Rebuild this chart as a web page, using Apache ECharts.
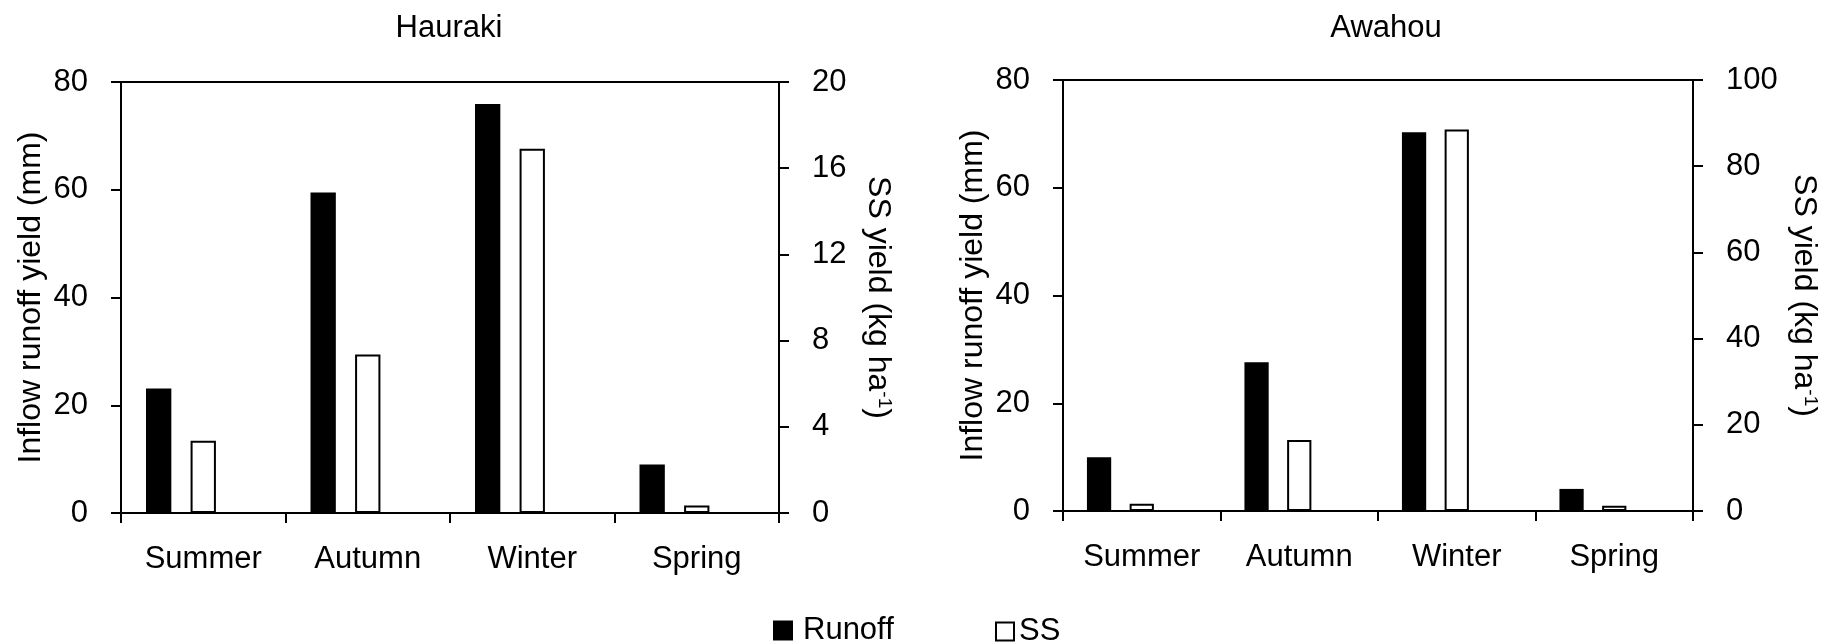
<!DOCTYPE html>
<html>
<head>
<meta charset="utf-8">
<script src="https://cdn.jsdelivr.net/npm/echarts@6/dist/echarts.min.js"></script>
<style>
html,body{margin:0;padding:0;background:#fff;}
#chart{width:1823px;height:644px;}
</style>
</head>
<body>
<div id="chart"></div>
<script>
// ---- data ----
const categories = ['Summer', 'Autumn', 'Winter', 'Spring'];
const haurakiRunoff = [23.1, 59.5, 75.9, 9.0];
const haurakiSS = [3.35, 7.35, 16.9, 0.35];
const awahouRunoff = [10.0, 27.6, 70.3, 4.1];
const awahouSS = [1.7, 16.5, 88.5, 1.2];
const panelTitles = ['Hauraki', 'Awahou'];
const runoffAxis = { min: 0, max: 80, interval: 20 };
const haurakiSSAxis = { min: 0, max: 20, interval: 4 };
const awahouSSAxis = { min: 0, max: 100, interval: 20 };
const leftAxisName = 'Inflow runoff yield (mm)';
const rightAxisName = 'SS yield (kg ha{sup|-1})';

// ---- styling ----
const FONT = "'Liberation Sans', Arial, sans-serif";
const FS = 31;
const black = '#000';

const chart = echarts.init(document.getElementById('chart'), null, { renderer: 'canvas' });

const grids = [
  { left: 121, top: 82, width: 658, height: 431, show: true, borderColor: black, borderWidth: 2, backgroundColor: 'transparent' },
  { left: 1063, top: 80, width: 630, height: 431, show: true, borderColor: black, borderWidth: 2, backgroundColor: 'transparent' }
];

function xAxis(gi) {
  return {
    type: 'category', gridIndex: gi, data: categories,
    axisLine: { lineStyle: { color: black, width: 2 } },
    axisTick: { show: true, length: 10, lineStyle: { color: black, width: 2 } },
    axisLabel: { margin: 31, fontSize: FS, fontFamily: FONT, color: black },
    splitLine: { show: false }
  };
}
function yAxis(gi, pos, range, name, gap) {
  return {
    type: 'value', gridIndex: gi, position: pos,
    min: range.min, max: range.max, interval: range.interval,
    name: name, nameLocation: 'middle', nameGap: gap,
    nameRotate: pos === 'right' ? -90 : 90,
    nameTextStyle: {
      fontSize: 32, fontFamily: FONT, color: black,
      rich: { sup: { fontSize: 19, fontFamily: FONT, color: black, verticalAlign: 'top' } }
    },
    axisLine: { show: true, lineStyle: { color: black, width: 2 } },
    axisTick: { show: true, length: 10, lineStyle: { color: black, width: 2 } },
    axisLabel: { margin: 33, fontSize: FS, fontFamily: FONT, color: black },
    splitLine: { show: false }
  };
}

const BW = '15.4%';
const BG = '76%';
function bars(gi, runoff, ss) {
  const yi = gi * 2;
  return [
    { name: 'Runoff', type: 'bar', xAxisIndex: gi, yAxisIndex: yi, data: runoff,
      barWidth: BW, barGap: BG, itemStyle: { color: black } },
    { name: 'SS', type: 'bar', xAxisIndex: gi, yAxisIndex: yi + 1, data: ss,
      barWidth: BW, barGap: BG, itemStyle: { color: '#fff', borderColor: black, borderWidth: 2 } },
    { name: 'empty', type: 'bar', xAxisIndex: gi, yAxisIndex: yi, data: [],
      barWidth: BW, barGap: BG }
  ];
}

const titleStyle = { fontSize: FS, fontWeight: 'normal', fontFamily: FONT, color: black };

const option = {
  animation: false,
  backgroundColor: '#fff',
  title: [
    { text: panelTitles[0], left: 449, top: 13, textAlign: 'center', padding: 0, textStyle: titleStyle },
    { text: panelTitles[1], left: 1386, top: 13, textAlign: 'center', padding: 0, textStyle: titleStyle }
  ],
  legend: [
    { data: [{ name: 'Runoff', icon: 'rect' }], left: 773, top: 615, padding: 0, itemWidth: 20, itemHeight: 20,
      textStyle: { fontSize: FS, fontFamily: FONT, color: black, lineHeight: 20, padding: [0, 0, 0, 5] } },
    { data: [{ name: 'SS', icon: 'rect' }], left: 995, top: 616, padding: 0, itemWidth: 18, itemHeight: 18,
      textStyle: { fontSize: FS, fontFamily: FONT, color: black, lineHeight: 18 } }
  ],
  grid: grids,
  xAxis: [xAxis(0), xAxis(1)],
  yAxis: [
    yAxis(0, 'left', runoffAxis, leftAxisName, 74),
    yAxis(0, 'right', haurakiSSAxis, rightAxisName, 83),
    yAxis(1, 'left', runoffAxis, leftAxisName, 74),
    yAxis(1, 'right', awahouSSAxis, rightAxisName, 95)
  ],
  series: [].concat(bars(0, haurakiRunoff, haurakiSS), bars(1, awahouRunoff, awahouSS))
};
chart.setOption(option);
</script>
</body>
</html>
